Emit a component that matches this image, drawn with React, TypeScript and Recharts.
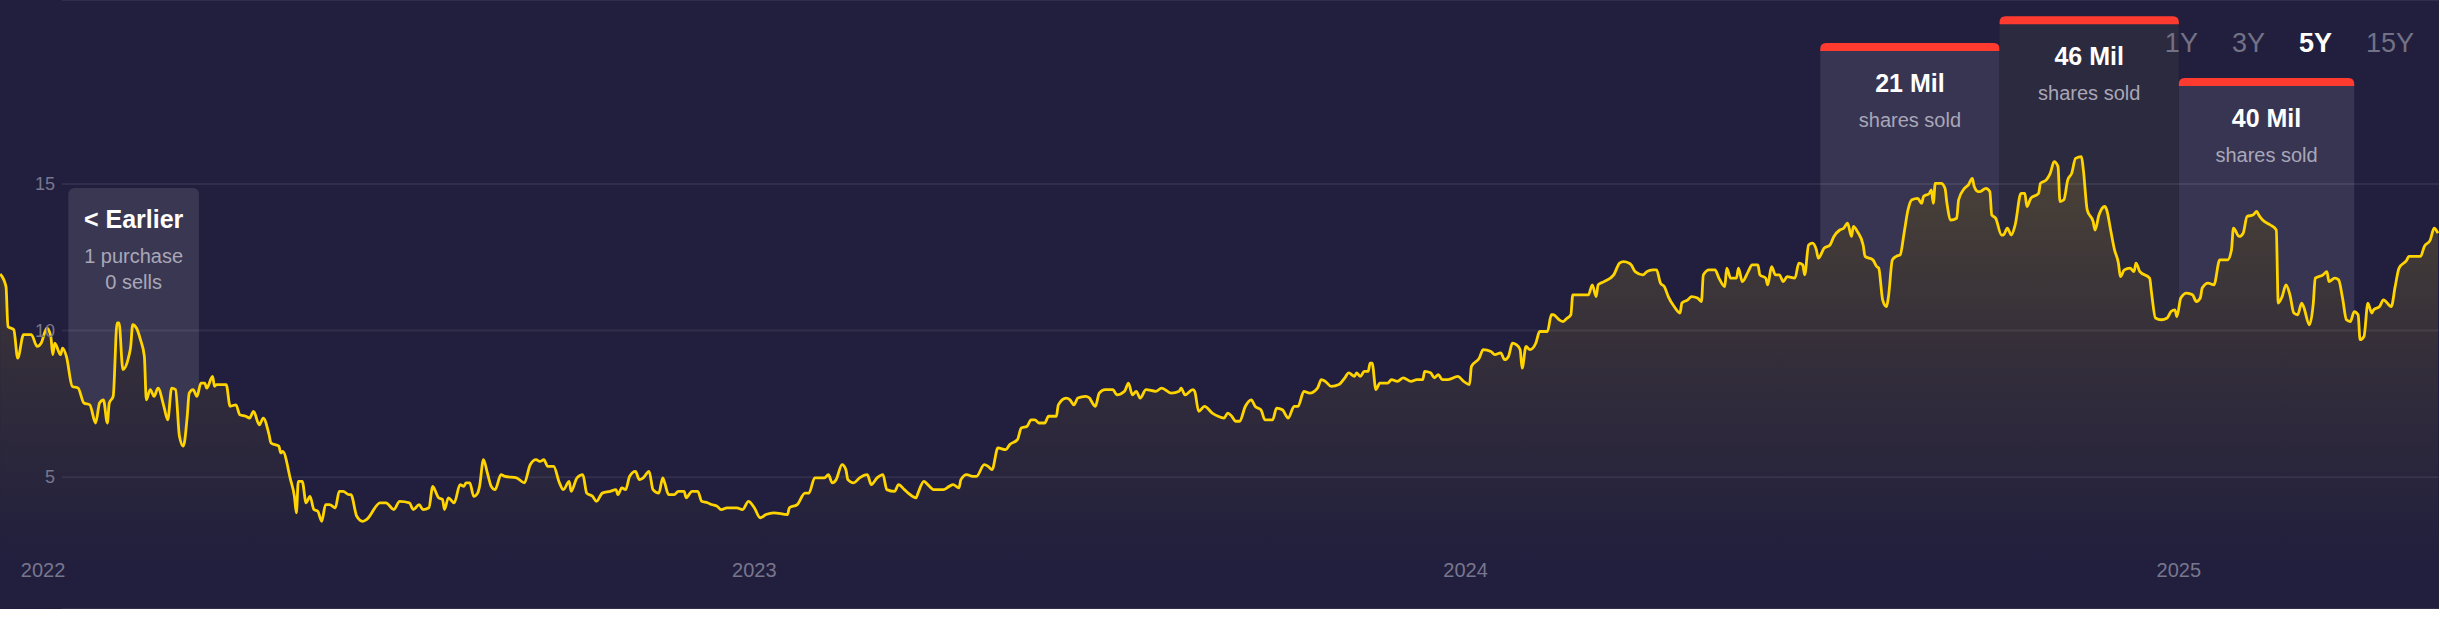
import type { ReactElement } from "react";
import {
  Area,
  CartesianGrid,
  ComposedChart,
  Line,
  ReferenceArea,
  XAxis,
  YAxis,
} from "recharts";

const W = 2439;
const H = 609;

const BG = "#211f3d";
const LINE = "#ffd400";
const AXIS_TEXT = "#78768e";
const GRID = "rgba(255, 255, 255, 0.07)";
const BOX = "#383553";
const BOX_ACTIVE = "#2b2a3f";
const EARLIER_BOX = "#3a3753";
const RED = "#ff3b30";
const MUTED = "#a9a7b8";
const RANGE_GRAY = "#737186";
const FONT = '"Liberation Sans", Arial, Helvetica, sans-serif';

// x = days since 2022-01-01
const X_DOMAIN: [number, number] = [-22.08, 1229.5];
const Y_DOMAIN: [number, number] = [0.51, 21.27];

const yearTicks = [0, 365, 730, 1096];
const yearLabels = ["2022", "2023", "2024", "2025"];
const priceTicks = [5, 10, 15];

const priceDays = [
  -22, -19, -18, -15, -13, -10, -6, -3, -1, 2,
  4, 5, 6, 9, 10, 12, 15, 18, 21, 24,
  27, 29, 31, 33, 34, 36, 38, 39, 41, 44,
  45, 46, 48, 50, 52, 53, 55, 57, 59, 62,
  64, 66, 68, 70, 72, 74, 75, 77, 79, 81,
  83, 84, 87, 88, 89, 94, 96, 99, 101, 104,
  106, 108, 111, 113, 116, 117, 121, 122, 123, 127,
  129, 130, 131, 133, 135, 137, 139, 141, 143, 145,
  147, 150, 152, 154, 157, 158, 161, 164, 166, 173,
  176, 180, 183, 188, 190, 193, 195, 198, 200, 201,
  203, 205, 206, 208, 211, 214, 216, 217, 219, 221,
  223, 224, 226, 228, 230, 232, 235, 237, 243, 247,
  250, 253, 255, 257, 259, 262, 265, 267, 270, 271,
  274, 277, 279, 282, 284, 287, 291, 294, 295, 297,
  299, 301, 304, 306, 308, 311, 313, 316, 318, 319,
  321, 324, 326, 329, 330, 333, 336, 338, 341, 343,
  346, 348, 351, 356, 359, 362, 365, 368, 371, 375,
  382, 383, 387, 391, 393, 396, 401, 403, 405, 407,
  410, 412, 413, 416, 419, 423, 425, 428, 431, 433,
  437, 439, 442, 444, 448, 449, 452, 454, 457, 462,
  465, 467, 470, 471, 474, 477, 479, 483, 485, 487,
  490, 494, 496, 500, 502, 505, 507, 509, 511, 514,
  516, 520, 521, 525, 527, 529, 531, 535, 537, 538,
  540, 542, 545, 549, 551, 555, 557, 559, 561, 563,
  566, 571, 574, 579, 583, 584, 586, 590, 591, 593,
  596, 600, 603, 606, 608, 610, 612, 614, 617, 620,
  622, 625, 627, 631, 633, 636, 639, 642, 644, 647,
  650, 654, 656, 658, 661, 665, 668, 670, 673, 674,
  676, 678, 680, 681, 682, 684, 686, 690, 692, 695,
  698, 702, 705, 708, 709, 712, 714, 716, 718, 721,
  726, 729, 732, 733, 737, 739, 743, 745, 748, 750,
  752, 754, 756, 758, 759, 761, 763, 766, 768, 772,
  774, 775, 778, 780, 782, 784, 785, 789, 793, 795,
  797, 798, 801, 806, 809, 811, 814, 815, 817, 821,
  823, 826, 828, 830, 832, 834, 837, 840, 841, 844,
  846, 849, 851, 852, 855, 858, 860, 863, 864, 866,
  869, 870, 872, 875, 877, 880, 881, 884, 885, 887,
  889, 891, 893, 895, 899, 901, 903, 904, 906, 908,
  910, 911, 914, 917, 919, 922, 924, 926, 928, 929,
  931, 934, 935, 939, 941, 942, 944, 946, 947, 949,
  951, 953, 955, 957, 959, 962, 964, 965, 968, 969,
  970, 971, 974, 976, 977, 979, 982, 983, 986, 988,
  990, 991, 993, 994, 997, 999, 1000, 1002, 1005, 1006,
  1008, 1010, 1012, 1015, 1017, 1018, 1020, 1024, 1025, 1028,
  1030, 1032, 1034, 1035, 1037, 1039, 1041, 1043, 1046, 1047,
  1049, 1052, 1053, 1055, 1058, 1059, 1061, 1063, 1065, 1066,
  1068, 1071, 1073, 1074, 1076, 1081, 1082, 1084, 1087, 1090,
  1092, 1094, 1095, 1097, 1100, 1103, 1105, 1107, 1108, 1111,
  1114, 1117, 1119, 1121, 1123, 1124, 1127, 1129, 1131, 1134,
  1136, 1137, 1139, 1143, 1146, 1147, 1149, 1151, 1153, 1155,
  1157, 1159, 1160, 1163, 1165, 1166, 1170, 1172, 1173, 1176,
  1178, 1180, 1182, 1184, 1186, 1188, 1189, 1191, 1193, 1195,
  1196, 1199, 1201, 1205, 1207, 1209, 1213, 1214, 1218, 1220,
  1222, 1225, 1227, 1229,
];

const priceValues = [
  11.93, 11.5, 10.14, 10.03, 9.06, 9.86, 9.86, 9.46, 9.57, 10.08,
  9.8, 9.18, 9.57, 9.18, 9.4, 9.12, 8.1, 8.04, 7.53, 7.47,
  6.85, 7.53, 7.64, 6.85, 7.53, 7.76, 10.26, 10.26, 8.67, 9.12,
  9.46, 10.2, 10.08, 9.69, 9.12, 7.64, 7.99, 7.76, 8.04, 7.42,
  6.96, 8.04, 7.99, 6.4, 6.06, 7.08, 7.87, 7.99, 7.76, 8.21,
  8.21, 8.04, 8.44, 8.1, 8.16, 8.16, 7.42, 7.47, 7.13, 7.08,
  7.02, 7.25, 6.79, 7.02, 6.45, 6.17, 6.06, 5.83, 5.88, 4.92,
  4.35, 3.79, 4.86, 4.86, 4.13, 4.35, 3.9, 3.84, 3.5, 4.07,
  4.07, 3.96, 4.52, 4.52, 4.41, 4.41, 3.67, 3.5, 3.56, 4.13,
  4.13, 3.9, 4.18, 4.13, 3.9, 4.07, 3.9, 3.96, 4.69, 4.58,
  4.3, 4.24, 3.9, 4.3, 4.13, 4.75, 4.69, 4.81, 4.81, 4.35,
  4.46, 4.69, 5.6, 5.15, 4.69, 4.58, 5.09, 5.03, 4.98, 4.81,
  5.43, 5.6, 5.54, 5.6, 5.37, 5.37, 4.81, 4.58, 4.86, 4.52,
  4.98, 5.09, 4.46, 4.35, 4.18, 4.46, 4.52, 4.58, 4.41, 4.64,
  4.58, 5.03, 5.2, 4.92, 4.98, 5.2, 4.58, 4.46, 4.98, 4.81,
  4.41, 4.41, 4.52, 4.52, 4.3, 4.52, 4.52, 4.18, 4.13, 4.07,
  4.01, 3.9, 3.96, 3.96, 3.9, 4.18, 3.96, 3.62, 3.73, 3.79,
  3.73, 3.96, 4.07, 4.46, 4.46, 4.98, 4.98, 5.09, 4.81, 4.92,
  5.43, 5.26, 4.92, 4.81, 4.98, 5.09, 4.75, 4.98, 5.09, 4.58,
  4.52, 4.75, 4.58, 4.46, 4.3, 4.46, 4.86, 4.75, 4.58, 4.58,
  4.69, 4.75, 4.64, 4.92, 5.09, 5.03, 5.03, 5.43, 5.37, 5.26,
  6.0, 5.94, 6.11, 6.28, 6.68, 6.74, 6.96, 6.96, 6.85, 6.85,
  7.08, 7.08, 7.47, 7.7, 7.64, 7.47, 7.7, 7.76, 7.7, 7.59,
  7.42, 7.87, 7.99, 7.99, 7.81, 7.93, 8.21, 7.81, 7.93, 7.7,
  7.99, 7.93, 8.04, 7.87, 7.93, 8.04, 7.81, 7.99, 7.93, 7.25,
  7.42, 7.19, 7.08, 7.02, 7.19, 7.08, 6.91, 6.91, 7.42, 7.64,
  7.42, 7.3, 6.96, 6.96, 7.36, 7.3, 7.02, 7.42, 7.42, 7.93,
  7.87, 8.04, 8.33, 8.27, 8.1, 8.16, 8.39, 8.56, 8.44, 8.56,
  8.44, 8.61, 8.61, 8.89, 8.89, 7.99, 8.21, 8.21, 8.33, 8.27,
  8.39, 8.27, 8.33, 8.33, 8.61, 8.56, 8.39, 8.5, 8.33, 8.33,
  8.44, 8.27, 8.16, 8.78, 9.06, 9.35, 9.29, 9.18, 9.24, 9.01,
  9.12, 9.57, 9.52, 9.35, 8.72, 9.46, 9.35, 9.57, 9.97, 9.97,
  10.54, 10.54, 10.37, 10.31, 10.42, 10.54, 11.22, 11.22, 11.22, 11.56,
  11.16, 11.56, 11.67, 11.9, 12.3, 12.35, 12.3, 12.24, 12.01, 11.9,
  12.01, 12.07, 12.07, 11.62, 11.5, 11.16, 10.82, 10.6, 10.94, 11.05,
  11.16, 11.11, 10.99, 11.9, 12.07, 12.07, 11.79, 11.5, 12.13, 11.79,
  11.79, 12.13, 11.67, 12.01, 12.24, 12.24, 11.9, 11.79, 11.56, 12.18,
  11.9, 11.9, 11.67, 11.84, 11.79, 12.3, 12.24, 11.9, 12.92, 12.98,
  12.75, 12.47, 12.81, 12.92, 13.21, 13.43, 13.49, 13.66, 13.21, 13.55,
  13.38, 12.92, 12.53, 12.41, 12.18, 12.13, 11.05, 10.82, 11.16, 12.41,
  12.53, 12.58, 13.32, 14.11, 14.46, 14.51, 14.34, 14.57, 14.68, 14.8,
  14.34, 15.02, 15.02, 14.85, 14.34, 13.77, 13.83, 14.46, 14.85, 14.97,
  15.19, 14.91, 14.74, 14.74, 14.85, 14.74, 13.94, 13.83, 13.26, 13.26,
  13.49, 13.26, 13.6, 14.68, 14.68, 14.23, 14.51, 14.68, 15.02, 15.14,
  15.36, 15.76, 15.59, 14.4, 14.46, 15.14, 15.36, 15.87, 15.93, 15.48,
  14.11, 13.72, 13.43, 13.94, 14.23, 14.11, 13.43, 12.75, 12.3, 11.84,
  12.07, 12.13, 12.01, 12.3, 12.01, 11.79, 11.28, 10.43, 10.37, 10.43,
  10.65, 10.71, 10.48, 11.11, 11.28, 11.22, 10.99, 11.11, 11.45, 11.62,
  11.56, 12.41, 12.41, 12.41, 12.75, 13.49, 13.21, 13.32, 13.89, 13.94,
  14.06, 13.94, 13.77, 13.6, 13.43, 10.94, 11.16, 11.56, 11.22, 10.6,
  10.54, 10.94, 10.82, 10.2, 10.94, 11.79, 11.9, 12.01, 11.67, 11.79,
  11.73, 11.11, 10.37, 10.31, 10.65, 10.54, 9.69, 9.8, 10.94, 10.6,
  10.71, 10.82, 11.05, 10.82, 11.5, 12.13, 12.41, 12.53, 12.53, 12.53,
  12.87, 13.09, 13.49, 13.32,
];

// insider sales, one box per quarter
const saleStartDays = [912, 1004, 1096];
const saleEndDays = [1004, 1096, 1186];
const saleBoxTops = [19.8, 20.72, 18.61];
const saleAmounts = ["21 Mil", "46 Mil", "40 Mil"];
const ACTIVE_SALE = 1;

const earlierSpan = [13, 80];
const earlierTop = 14.86;
const earlierLines = ["< Earlier", "1 purchase", "0 sells"];

const rangeLabels = ["1Y", "3Y", "5Y", "15Y"];
const activeRange = "5Y";

function topRounded(x: number, y: number, w: number, h: number, r: number): string {
  return `M${x},${y + h} L${x},${y + r} Q${x},${y} ${x + r},${y} L${x + w - r},${y} Q${x + w},${y} ${x + w},${y + r} L${x + w},${y + h} Z`;
}

function saleShape(amount: string, active: boolean) {
  return (p: any): ReactElement => {
    const { x, y, width, height } = p;
    const cx = x + width / 2;
    return (
      <g>
        <path d={topRounded(x, y, width, height, 6)} fill={active ? BOX_ACTIVE : BOX} />
        <path d={topRounded(x, y, width, 8, 6)} fill={RED} />
        <text
          x={cx}
          y={y + 40}
          textAnchor="middle"
          dominantBaseline="central"
          fill="#ffffff"
          fontSize={25}
          fontWeight={700}
          fontFamily={FONT}
        >
          {amount}
        </text>
        <text
          x={cx}
          y={y + 77}
          textAnchor="middle"
          dominantBaseline="central"
          fill={MUTED}
          fontSize={20}
          fontFamily={FONT}
        >
          shares sold
        </text>
      </g>
    );
  };
}

function earlierShape(p: any): ReactElement {
  const { x, y, width, height } = p;
  const cx = x + width / 2;
  return (
    <g>
      <rect x={x} y={y} width={width} height={height} rx={6} fill={EARLIER_BOX} />
      <text
        x={cx}
        y={y + 31}
        textAnchor="middle"
        dominantBaseline="central"
        fill="#ffffff"
        fontSize={25}
        fontWeight={700}
        fontFamily={FONT}
      >
        {earlierLines[0]}
      </text>
      <text x={cx} y={y + 68} textAnchor="middle" dominantBaseline="central" fill={MUTED} fontSize={20} fontFamily={FONT}>
        {earlierLines[1]}
      </text>
      <text x={cx} y={y + 94} textAnchor="middle" dominantBaseline="central" fill={MUTED} fontSize={20} fontFamily={FONT}>
        {earlierLines[2]}
      </text>
    </g>
  );
}

function YearTick(p: any) {
  const i = yearTicks.indexOf(p.payload?.value);
  return (
    <text x={p.x} y={H - 39} textAnchor="middle" dominantBaseline="central" fill={AXIS_TEXT} fontSize={20} fontFamily={FONT}>
      {yearLabels[i] ?? ""}
    </text>
  );
}

function PriceTick(p: any) {
  return (
    <text x={55} y={p.y} textAnchor="end" dominantBaseline="central" fill={AXIS_TEXT} fontSize={18} fontFamily={FONT}>
      {p.payload?.value}
    </text>
  );
}

export default function App() {
  const n = Math.min(priceDays.length, priceValues.length);
  const data = priceDays.slice(0, n).map((day, i) => ({ day, price: priceValues[i] }));

  return (
    <div style={{ position: "relative", width: W, height: H, background: BG, overflow: "hidden" }}>
      <style>{"body{margin:0;background:#fff}"}</style>
      <div style={{ position: "absolute", left: 0, top: 0 }}>
        <ComposedChart width={W} height={H} data={data} margin={{ top: 0, right: 0, bottom: 0, left: 0 }}>
          <defs>
            <linearGradient id="priceFill" gradientUnits="userSpaceOnUse" x1="0" y1="150" x2="0" y2="560">
              <stop offset="0%" stopColor="#4c4336" />
              <stop offset="50%" stopColor="#342e3a" />
              <stop offset="100%" stopColor={BG} />
            </linearGradient>
          </defs>
          {saleAmounts.map((amount, i) => (
            <ReferenceArea
              key={amount}
              x1={saleStartDays[i]}
              x2={saleEndDays[i]}
              y1={3}
              y2={saleBoxTops[i]}
              shape={saleShape(amount, i === ACTIVE_SALE)}
              zIndex={1}
            />
          ))}
          <ReferenceArea x1={earlierSpan[0]} x2={earlierSpan[1]} y1={3} y2={earlierTop} shape={earlierShape} zIndex={1} />
          <Area
            type="monotone"
            dataKey="price"
            stroke="none"
            fill="url(#priceFill)"
            fillOpacity={1}
            dot={false}
            activeDot={false}
            isAnimationActive={false}
            zIndex={2}
          />
          <CartesianGrid vertical={false} x={62} width={W - 62} stroke={GRID} strokeWidth={2} zIndex={3} />
          <XAxis
            type="number"
            dataKey="day"
            domain={X_DOMAIN}
            allowDataOverflow
            ticks={yearTicks}
            interval={0}
            mirror
            height={1}
            axisLine={false}
            tickLine={false}
            tick={<YearTick />}
            zIndex={4}
          />
          <YAxis
            type="number"
            domain={Y_DOMAIN}
            allowDataOverflow
            ticks={priceTicks}
            interval={0}
            mirror
            width={1}
            axisLine={false}
            tickLine={false}
            tick={<PriceTick />}
            zIndex={4}
          />
          <Line
            type="monotone"
            dataKey="price"
            stroke={LINE}
            strokeWidth={2.8}
            dot={false}
            activeDot={false}
            isAnimationActive={false}
            zIndex={5}
          />
        </ComposedChart>
      </div>
      <div
        style={{
          position: "absolute",
          right: 25,
          top: 30,
          display: "flex",
          gap: 34,
          fontFamily: FONT,
          fontSize: 27,
          lineHeight: 1,
        }}
      >
        {rangeLabels.map((r) => (
          <span key={r} style={{ color: r === activeRange ? "#ffffff" : RANGE_GRAY, fontWeight: r === activeRange ? 700 : 400 }}>
            {r}
          </span>
        ))}
      </div>
    </div>
  );
}
